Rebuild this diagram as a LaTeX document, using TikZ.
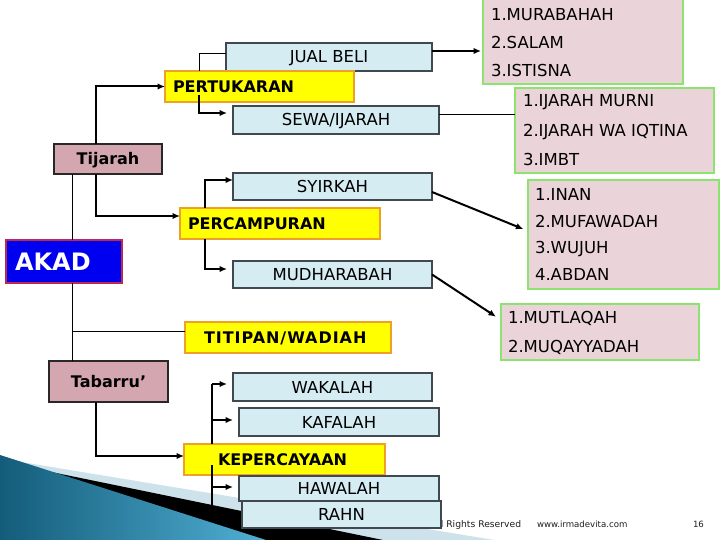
\documentclass[tikz,border=0pt]{standalone}
\usepackage{fontspec}
\setmainfont{DejaVu Sans}
\usetikzlibrary{arrows.meta}
\definecolor{lb}{RGB}{214,236,243}
\definecolor{lbd}{RGB}{64,72,80}
\definecolor{yel}{RGB}{255,255,0}
\definecolor{ord}{RGB}{238,160,40}
\definecolor{gpink}{RGB}{234,212,218}
\definecolor{gbord}{RGB}{140,228,110}
\definecolor{tpink}{RGB}{212,166,176}
\definecolor{tbord}{RGB}{40,40,40}
\definecolor{akfill}{RGB}{0,0,240}
\definecolor{akbord}{RGB}{190,40,80}
\definecolor{palebl}{RGB}{205,226,234}
\definecolor{tealdk}{RGB}{20,92,122}
\definecolor{teallt}{RGB}{80,175,212}
\definecolor{footc}{RGB}{30,30,30}
\begin{document}
\begin{tikzpicture}[x=1pt,y=-1pt,
  every node/.style={inner sep=0pt, outer sep=0pt},
  bx/.style={draw, rectangle, align=center},
  bluebox/.style={bx, fill=lb, draw=lbd, line width=1.8pt, text height=12pt, text depth=0pt, font=\fontsize{16.5}{20}\selectfont},
  ybox/.style={bx, fill=yel, draw=ord, line width=1.5pt},
  gbox/.style={bx, fill=gpink, draw=gbord, line width=2.2pt},
  pbox/.style={bx, fill=tpink, draw=tbord, line width=1.5pt, text height=11.7pt, text depth=0pt, font=\bfseries\fontsize{16}{20}\selectfont},
  ytext/.style={anchor=west, text height=11.7pt, text depth=0pt, font=\bfseries\fontsize{16}{20}\selectfont},
  gtext/.style={anchor=west, text height=12pt, text depth=0pt, font=\fontsize{16.5}{20}\selectfont},
  foot/.style={anchor=base west, text=footc, font=\fontsize{8.6}{10}\selectfont},
  thinln/.style={line width=1pt, draw=black},
  thk/.style={line width=2pt, draw=black},
  arr/.style={thk, -{Latex[length=7.5pt,width=6.5pt]}},
]
\useasboundingbox (0,0) rectangle (720,540);
\fill[white] (0,0) rectangle (720,540);

% background decoration
\fill[palebl] (0,458.5) -- (494,540) -- (0,540) -- cycle;
\fill[black] (0,461.5) -- (383,540) -- (0,540) -- cycle;
\shade[left color=tealdk, right color=teallt] (0,455) -- (266,540) -- (0,540) -- cycle;

% footer
\node[foot, font=\fontsize{9.2}{10}\selectfont] (rights) at (432,527) {All Rights Reserved};
\node[foot] (web) at (537,527) {www.irmadevita.com};
\node[foot] (pg) at (693,527) {16};

% green/pink list boxes
\node[gbox, minimum width=200pt, minimum height=85pt] (g1) at (583,41.5) {};
\node[gbox, minimum width=199pt, minimum height=85pt] (g2) at (614.5,130.5) {};
\node[gbox, minimum width=191pt, minimum height=109pt] (g3) at (623.5,234.5) {};
\node[gbox, minimum width=198pt, minimum height=56pt] (g4) at (600,332) {};

\node[gtext] (g1a) at (491,14.5) {1.MURABAHAH};
\node[gtext] (g1b) at (491,43) {2.SALAM};
\node[gtext] (g1c) at (491,71) {3.ISTISNA};
\node[gtext] (g2a) at (523,101) {1.IJARAH MURNI};
\node[gtext] (g2b) at (523,131) {2.IJARAH WA IQTINA};
\node[gtext] (g2c) at (523,159.5) {3.IMBT};
\node[gtext] (g3a) at (535,194.5) {1.INAN};
\node[gtext] (g3b) at (535,221) {2.MUFAWADAH};
\node[gtext] (g3c) at (535,247.5) {3.WUJUH};
\node[gtext] (g3d) at (535,274.5) {4.ABDAN};
\node[gtext] (g4a) at (508,317) {1.MUTLAQAH};
\node[gtext] (g4b) at (508,346.5) {2.MUQAYYADAH};

% light blue boxes
\node[bluebox, minimum width=206pt, minimum height=28pt] (jual) at (329,57) {JUAL BELI};
\node[bluebox, minimum width=206pt, minimum height=28pt] (sewa) at (336,120) {SEWA/IJARAH};
\node[bluebox, minimum width=199pt, minimum height=27pt] (syir) at (332.5,186.5) {SYIRKAH};
\node[bluebox, minimum width=199pt, minimum height=27pt] (mudh) at (332.5,274.5) {MUDHARABAH};
\node[bluebox, minimum width=199pt, minimum height=28pt] (wak) at (332.5,387) {WAKALAH};
\node[bluebox, minimum width=200pt, minimum height=28pt] (kaf) at (339,422) {KAFALAH};

% yellow boxes
\node[ybox, minimum width=189pt, minimum height=31pt] (pert) at (259.5,86.5) {};
\node[ytext] (pertt) at (173,86.5) {PERTUKARAN};
\node[ybox, minimum width=200pt, minimum height=31pt] (perc) at (280,223.5) {};
\node[ytext] (perct) at (188,223.5) {PERCAMPURAN};
\node[ybox, minimum width=206pt, minimum height=31pt] (titip) at (288,337.5) {};
\node[ytext] (titipt) at (204,337.5) {\addfontfeature{LetterSpace=6}TITIPAN/WADIAH};
\node[ybox, minimum width=201pt, minimum height=31pt] (kep) at (284.5,459.5) {};
\node[ytext] (kept) at (218,460) {KEPERCAYAAN};

\node[bluebox, minimum width=200pt, minimum height=25pt] (haw) at (339,488.5) {HAWALAH};
\node[bluebox, minimum width=199pt, minimum height=27pt] (rahn) at (341.5,514.5) {RAHN};

% pink category boxes and AKAD
\node[pbox, minimum width=108pt, minimum height=30pt] (tij) at (108,159) {Tijarah};
\node[pbox, minimum width=119pt, minimum height=41pt] (tab) at (108.5,381.5) {Tabarru’};
\node[bx, fill=akfill, draw=akbord, line width=2pt, minimum width=116pt, minimum height=43pt] (akad) at (64,261.5) {};
\node[anchor=west, text=white, text height=17.5pt, text depth=0pt, font=\bfseries\fontsize{24}{28}\selectfont] (akadt) at (15,261.5) {AKAD};

% helper coordinates
\coordinate (sp) at (72,0);
\coordinate (kx) at (212,0);
\path ([yshift=6.5pt]titip.west) coordinate (tw);
\path ([yshift=3pt]wak.west) coordinate (wa);
\path ([yshift=2pt]kaf.west) coordinate (ka);
\path ([yshift=-5.5pt]kep.west) coordinate (kl);
\path ([yshift=1.5pt]haw.west) coordinate (ha);

% connectors
\draw[thinln] ([yshift=3pt]jual.west) -| ([xshift=34pt]pert.north west);
\draw[arr, shorten >=6pt] ([xshift=34pt,yshift=-8.5pt]pert.west) |- ([yshift=7pt]sewa.west);
\draw[arr] ([xshift=42pt]tij.north west) |- (pert.west);
\draw[arr] ([xshift=42pt]tij.south west) |- ([yshift=7.5pt]perc.west);
\draw[arr, shorten >=2pt] ([yshift=6pt]jual.east) -- ([yshift=6pt]jual.east -| g1.west);
\draw[thinln] ([yshift=5pt]sewa.east) -- ([yshift=5pt]sewa.east -| g2.west);

\draw[thinln] (tij.south -| sp) -- (akad.north -| sp);
\draw[thinln] (akad.south -| sp) -- (tab.north -| sp);
\draw[thinln] (tw -| sp) -- (tw);

\draw[arr] ([xshift=25pt]perc.north west) |- ([yshift=6.5pt]syir.west);
\draw[arr, shorten >=6pt] ([xshift=25pt]perc.south west) |- ([yshift=5.5pt]mudh.west);
\draw[arr, shorten >=5pt] ([yshift=-5.5pt]syir.east) -- ([yshift=3.5pt]g3.west);
\draw[arr, shorten >=6pt] (mudh.east) -- ([yshift=12pt]g4.west);

\draw[arr] ([xshift=47pt]tab.south west) |- ([yshift=3.5pt]kep.west);
\draw[thk] (kep.north -| kx) -- (wa -| kx);
\draw[arr, shorten >=6pt] (wa -| kx) -- (wa);
\draw[arr, shorten >=6pt] (ka -| kx) -- (ka);
\draw[thk] (kl -| kx) -- (rahn.west -| kx);
\draw[arr, shorten >=6pt] (ha -| kx) -- (ha);
\end{tikzpicture}
\end{document}
